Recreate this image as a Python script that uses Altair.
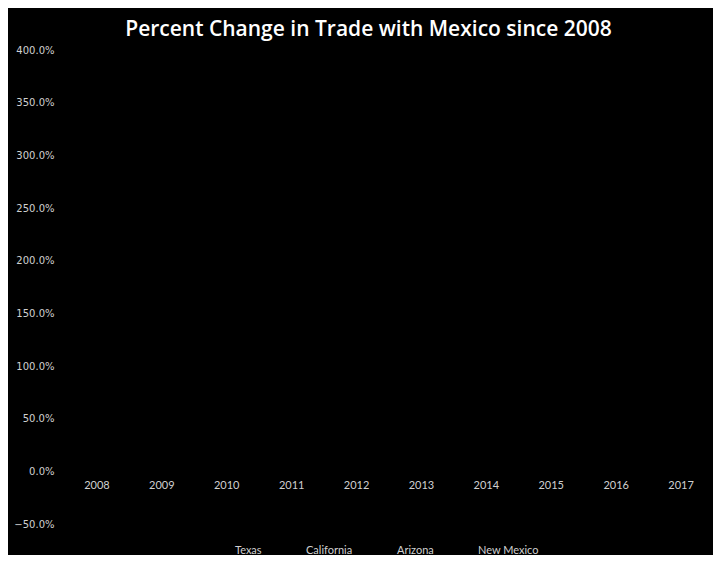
import altair as alt
import pandas as pd

years = ["2008", "2009", "2010", "2011", "2012", "2013", "2014", "2015", "2016", "2017"]
states = ["Texas", "California", "Arizona", "New Mexico"]
# Lines are drawn black on black in the reference (not visible); values are rough estimates
texas = [0.0, -0.20, 0.03, 0.22, 0.30, 0.33, 0.40, 0.32, 0.25, 0.35]
california = [0.0, -0.17, 0.10, 0.22, 0.30, 0.35, 0.40, 0.42, 0.38, 0.45]
arizona = [0.0, -0.22, 0.00, 0.10, 0.15, 0.18, 0.22, 0.25, 0.22, 0.30]
new_mexico = [0.0, -0.10, 0.40, 0.90, 1.30, 1.80, 2.50, 2.90, 3.20, 3.60]
y_ticks = [-0.5, 0.0, 0.5, 1.0, 1.5, 2.0, 2.5, 3.0, 3.5, 4.0]

series = {"Texas": texas, "California": california, "Arizona": arizona, "New Mexico": new_mexico}
rows = []
for s in states:
    for y, v in zip(years, series[s]):
        rows.append({"Year": y, "State": s, "Change": v})
df = pd.DataFrame(rows)

label_color = "#d0d0d0"

chart = alt.Chart(df).mark_line(strokeWidth=2).encode(
    x=alt.X("Year:O", sort=years, title=None,
            scale=alt.Scale(paddingInner=0, paddingOuter=0),
            axis=alt.Axis(labelAngle=0, ticks=False, domain=False, grid=False,
                          offset=-53, labelPadding=8, labelColor=label_color,
                          labelFont="Lato", labelFontSize=11, zindex=1)),
    y=alt.Y("Change:Q", title=None,
            scale=alt.Scale(domain=[-0.5, 4.0], nice=False),
            axis=alt.Axis(values=y_ticks, format=".1%", ticks=False, domain=False,
                          grid=False, labelPadding=10, labelColor=label_color,
                          labelFont="DejaVu Sans", labelFontSize=10, zindex=1)),
    color=alt.Color("State:N", sort=states,
                    scale=alt.Scale(domain=states, range=["#000000"] * 4),
                    legend=alt.Legend(title=None, orient="none", direction="horizontal",
                                      legendX=135, legendY=485, symbolType="stroke",
                                      symbolSize=900, symbolStrokeWidth=2,
                                      labelColor=label_color, labelFont="Lato",
                                      labelFontSize=11, columnPadding=5, padding=0,
                                      labelOffset=4)),
).properties(
    width=649,
    height=474,
    title=alt.TitleParams("Percent Change in Trade with Mexico since 2008",
                          color="white", font="Open Sans", fontSize=21,
                          fontWeight=600, anchor="middle", dx=-20, offset=5),
    autosize=alt.AutoSizeParams(type="none"),
    padding={"left": 56, "top": 42, "right": 0, "bottom": 31},
).configure(background="black").configure_view(stroke=None)

chart.save("out.html", embed_options={"renderer": "svg", "actions": False})
